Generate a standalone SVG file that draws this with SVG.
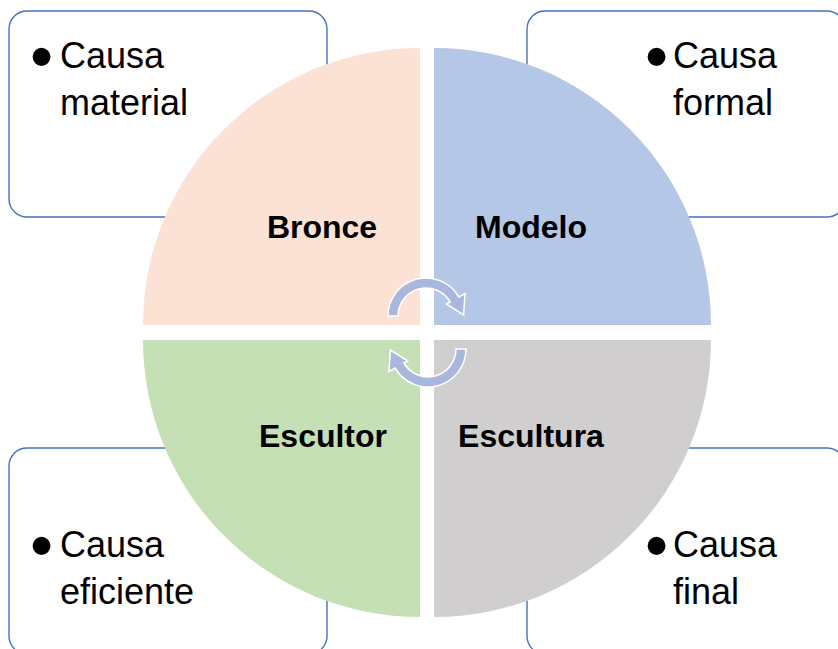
<svg xmlns="http://www.w3.org/2000/svg" width="838" height="649" viewBox="0 0 838 649">
<style>
.box{fill:#fff;stroke:#4472C4;stroke-width:1.4}
.t{font-family:"Liberation Sans",Arial,sans-serif;font-size:36px;fill:#000}
.b{font-family:"Liberation Sans",Arial,sans-serif;font-size:66px;fill:#000}
.lbl{font-family:"Liberation Sans",Arial,sans-serif;font-size:32px;font-weight:bold;fill:#000;text-anchor:middle}
.arr{fill:#A9B7DD;stroke:#fff;stroke-width:1.5;stroke-linejoin:miter}
</style>
<defs>
<path id="arrow" d="M388 316 A38 38 0 0 1 458.9 297 L465 293.5 L463.6 315 L446.3 304 L450.2 302 A28 28 0 0 0 398 316 Z"/>
</defs>
<rect width="838" height="649" fill="#fff"/>
<g id="box-material"><rect class="box" x="9" y="11" width="318" height="206" rx="18"/>
<text class="b" x="30" y="79">•</text><text class="t" x="60" y="68">Causa</text><text class="t" x="60" y="115">material</text></g>
<g id="box-formal"><rect class="box" x="527" y="11" width="318" height="206" rx="18"/>
<text class="b" x="645" y="79">•</text><text class="t" x="673" y="68">Causa</text><text class="t" x="673" y="115">formal</text></g>
<g id="box-eficiente"><rect class="box" x="9" y="448" width="318" height="206" rx="18"/>
<text class="b" x="30" y="568">•</text><text class="t" x="60" y="557">Causa</text><text class="t" x="60" y="604">eficiente</text></g>
<g id="box-final"><rect class="box" x="527" y="448" width="318" height="206" rx="18"/>
<text class="b" x="645" y="568">•</text><text class="t" x="673" y="557">Causa</text><text class="t" x="673" y="604">final</text></g>
<g id="q-bronce"><path d="M420 325 L143 325 A277 277 0 0 1 420 48 Z" fill="#FBE2D5"/><text class="lbl" x="322" y="238">Bronce</text></g>
<g id="q-modelo"><path d="M434 325 L434 48 A277 277 0 0 1 711 325 Z" fill="#B4C7E7"/><text class="lbl" x="531" y="238">Modelo</text></g>
<g id="q-escultura"><path d="M434 340 L711 340 A277 277 0 0 1 434 617 Z" fill="#D0CECE"/><text class="lbl" x="531" y="447">Escultura</text></g>
<g id="q-escultor"><path d="M420 340 L420 617 A277 277 0 0 1 143 340 Z" fill="#C5E0B4"/><text class="lbl" x="323" y="447">Escultor</text></g>
<g id="connectors">
<use href="#arrow" class="arr"/>
<use href="#arrow" class="arr" transform="rotate(180 427 332.5)"/>
</g>
</svg>
